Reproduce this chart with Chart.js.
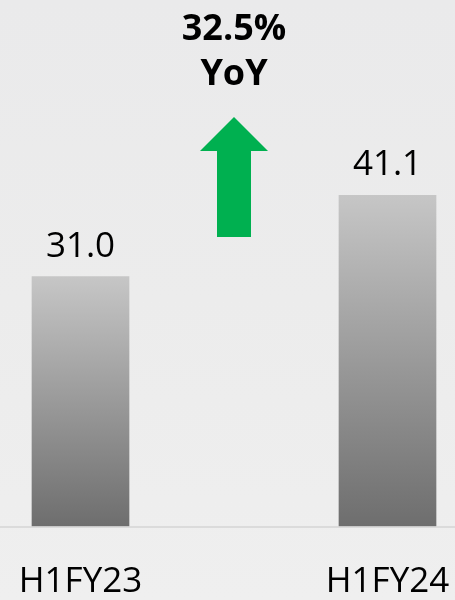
<!DOCTYPE html>
<html>
<head>
<meta charset="utf-8">
<script src="https://cdn.jsdelivr.net/npm/chart.js@4"></script>
<style>
  html, body { margin: 0; padding: 0; }
  body {
    width: 455px; height: 600px; overflow: hidden;
    background: linear-gradient(to bottom, #eaeaeb 0%, #ececec 50%, #efefef 100%);
  }
  #wrap { position: relative; width: 455px; height: 600px; }
</style>
</head>
<body>
<div id="wrap"><canvas id="revChart"></canvas></div>
<script>
// Half-year values
const periods = ['H1FY23', 'H1FY24'];
const values = [31.0, 41.1];
const growthLabel = ['32.5%', 'YoY'];

const FONT = "'Open Sans', 'DejaVu Sans', sans-serif";

// per-bar vertical gradient, light at the top, dark at the base
function barGradient(context) {
    const chart = context.chart;
    const yScale = chart.scales.y;
    if (!chart.chartArea || !yScale || context.raw === undefined) return '#999999';
    const top = yScale.getPixelForValue(context.raw);
    const base = yScale.getPixelForValue(0);
    const g = chart.ctx.createLinearGradient(0, top, 0, base);
    g.addColorStop(0, '#c6c6c6');
    g.addColorStop(1, '#6e6e6e');
    return g;
}

const extras = {
    id: 'extras',
    afterDatasetsDraw(chart) {
        const ctx = chart.ctx;
        const bars = chart.getDatasetMeta(0).data;
        const yScale = chart.scales.y;
        const base = yScale.getPixelForValue(0);

        // baseline across the full width
        ctx.save();
        ctx.strokeStyle = 'rgba(190,190,190,0.4)';
        ctx.lineWidth = 2;
        ctx.beginPath();
        ctx.moveTo(0, base + 1);
        ctx.lineTo(chart.width, base + 1);
        ctx.stroke();

        // value labels
        ctx.fillStyle = '#000';
        ctx.font = `35px ${FONT}`;
        ctx.textAlign = 'center';
        ctx.textBaseline = 'alphabetic';
        bars.forEach((bar, i) => {
            ctx.fillText(values[i].toFixed(1), bar.x, bar.y - 20);
        });

        // growth arrow between the bars
        const cx = (bars[0].x + bars[1].x) / 2;
        ctx.fillStyle = '#00b050';
        ctx.beginPath();
        ctx.moveTo(cx, 117);
        ctx.lineTo(cx + 34, 151);
        ctx.lineTo(cx + 17, 151);
        ctx.lineTo(cx + 17, 237);
        ctx.lineTo(cx - 17, 237);
        ctx.lineTo(cx - 17, 151);
        ctx.lineTo(cx - 34, 151);
        ctx.closePath();
        ctx.fill();

        ctx.fillStyle = '#000';
        ctx.font = `bold 36px ${FONT}`;
        ctx.fillText(growthLabel[0], cx, 40);
        ctx.fillText(growthLabel[1], cx, 85);
        ctx.restore();
    }
};

new Chart(document.getElementById('revChart'), {
    type: 'bar',
    data: {
        labels: periods,
        datasets: [{
            data: values,
            backgroundColor: barGradient,
            borderWidth: 0,
            barThickness: 97,
            clip: false
        }]
    },
    options: {
        responsive: true,
        maintainAspectRatio: false,
        animation: false,
        layout: { padding: { left: 80.5, right: 67.5, top: 0, bottom: 0 } },
        plugins: { legend: { display: false }, tooltip: { enabled: false } },
        scales: {
            x: {
                offset: false,
                grid: { display: false, drawTicks: false },
                border: { display: false },
                ticks: { color: '#000', font: { family: FONT, size: 35 }, padding: 35, maxRotation: 0, autoSkip: false },
                afterFit(scale) {
                    // labels may overhang the plot area; keep the plot where the bars belong
                    scale.height = 74;
                    scale.paddingLeft = 0;
                    scale.paddingRight = 0;
                }
            },
            y: { display: false, min: 0, max: 65.4 }
        }
    },
    plugins: [extras]
});
</script>
</body>
</html>
